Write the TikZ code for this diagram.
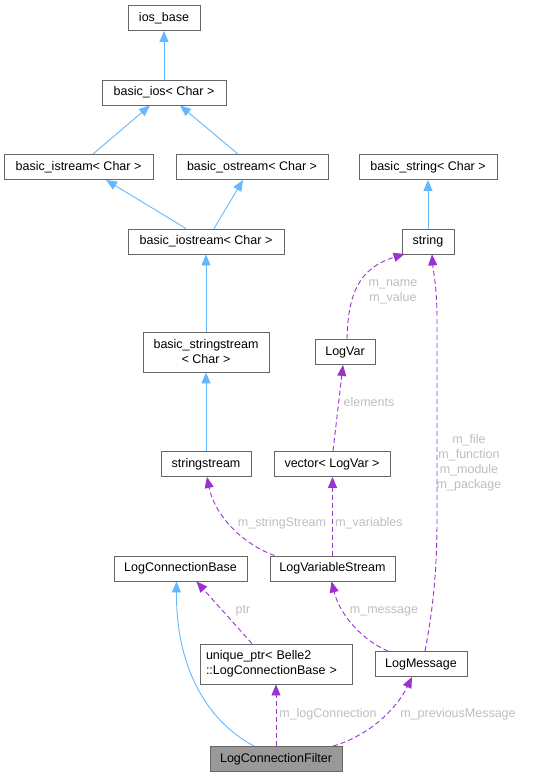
\documentclass[tikz,border=0pt]{standalone}
\usepackage{fontspec}
\setmainfont{Liberation Sans}
\usetikzlibrary{arrows.meta}
\definecolor{boxline}{HTML}{666666}
\definecolor{blueedge}{HTML}{63B8FF}
\definecolor{purpedge}{HTML}{9A32CD}
\definecolor{lblgray}{HTML}{BEBEBE}
\definecolor{filtfill}{HTML}{999999}
\tikzset{
  cls/.style={draw=boxline, line width=0.9pt, fill=white, inner sep=0pt, minimum height=25pt, font=\fontsize{12.5}{15}\selectfont, align=center},
  inh/.style={draw=blueedge, line width=0.9pt, -{Triangle[length=11pt,width=9pt]}},
  use/.style={draw=purpedge, line width=0.9pt, dash pattern=on 5pt off 3pt, -{Triangle[length=11pt,width=9pt]}},
  lbl/.style={text=lblgray, font=\fontsize{12.5}{15}\selectfont, align=center, inner sep=0pt}
}
\begin{document}
\begin{tikzpicture}[x=1pt,y=-1pt]
\useasboundingbox (0,0) rectangle (547,777);
% nodes
\node[cls, minimum width=72pt] (iosbase) at (164,18) {ios\_base};
\node[cls, minimum width=124pt] (basicios) at (164,92.5) {basic\_ios< Char >};
\node[cls, minimum width=149pt] (istream) at (78.5,167) {basic\_istream< Char >};
\node[cls, minimum width=152pt] (ostream) at (252,167) {basic\_ostream< Char >};
\node[cls, minimum width=138pt] (bstring) at (428,167) {basic\_string< Char >};
\node[cls, minimum width=156pt] (iostream) at (206,241.5) {basic\_iostream< Char >};
\node[cls, minimum width=52pt] (string) at (428,241.5) {string};
\node[cls, minimum width=126pt, minimum height=40pt] (sstreamb) at (206,352) {basic\_stringstream\\< Char >};
\node[cls, minimum width=60pt] (logvar) at (345,352) {LogVar};
\node[cls, minimum width=90pt] (sstream) at (206,464) {stringstream};
\node[cls, minimum width=116pt] (vector) at (332,464) {vector< LogVar >};
\node[cls, minimum width=133pt] (lcb) at (180.5,568.5) {LogConnectionBase};
\node[cls, minimum width=125pt] (lvs) at (332.5,568.5) {LogVariableStream};
\node[cls, minimum width=152pt, minimum height=40pt, align=left, text width=140pt] (uptr) at (276,664) {unique\_ptr< Belle2\\::LogConnectionBase >};
\node[cls, minimum width=92pt] (logmsg) at (421,664) {LogMessage};
\node[cls, minimum width=132pt, fill=filtfill] (filter) at (276,759) {LogConnectionFilter};
% inheritance edges
\draw[inh] (basicios.north) -- (iosbase.south);
\draw[inh] ([xshift=14.5pt]istream.north) -- ([xshift=-14pt]basicios.south);
\draw[inh] ([xshift=-14pt]ostream.north) -- ([xshift=16pt]basicios.south);
\draw[inh] ([xshift=-20pt]iostream.north) -- ([xshift=27.5pt]istream.south);
\draw[inh] ([xshift=8pt]iostream.north) -- ([xshift=-9pt]ostream.south);
\draw[inh] (string.north) -- (bstring.south);
\draw[inh] (sstreamb.north) -- (iostream.south);
\draw[inh] (sstream.north) -- (sstreamb.south);
\draw[inh] ([xshift=-22pt]filter.north) .. controls (205,720) and (176,665) .. ([xshift=-4pt]lcb.south);
% usage edges
\draw[use] ([xshift=2pt]logvar.north) .. controls (348,292) and (360,268) .. ([xshift=3pt,yshift=0.5pt]string.south west);
\draw[use] ([xshift=1pt]vector.north) -- ([xshift=-2pt]logvar.south);
\draw[use] ([xshift=-58pt]lvs.north) .. controls (238,542) and (214,512) .. ([xshift=1pt]sstream.south);
\draw[use] (lvs.north) -- ([xshift=0.5pt]vector.south);
\draw[use] ([xshift=4pt]logmsg.north) .. controls (433,610) and (437,570) .. (437,520) -- (437,320) .. controls (437,285) and (433,270) .. ([xshift=4pt]string.south);
\draw[use] ([xshift=-33pt]logmsg.north) .. controls (362,640) and (340,615) .. ([xshift=-1pt]lvs.south);
\draw[use] ([xshift=-24pt]uptr.north) -- ([xshift=16pt]lcb.south);
\draw[use] (filter.north) -- (uptr.south);
\draw[use] ([xshift=57pt]filter.north) .. controls (368,736) and (396,710) .. ([xshift=-9pt]logmsg.south);
% labels
\node[lbl] (l1) at (393,292) {m\_name\\m\_value};
\node[lbl] (l2) at (369,402) {elements};
\node[lbl] (l3) at (469,463) {m\_file\\m\_function\\m\_module\\m\_package};
\node[lbl] (l4) at (282,523) {m\_stringStream};
\node[lbl] (l5) at (369,523) {m\_variables};
\node[lbl] (l6) at (243,611) {ptr};
\node[lbl] (l7) at (384,611) {m\_message};
\node[lbl] (l8) at (328,714) {m\_logConnection};
\node[lbl] (l9) at (458,714) {m\_previousMessage};
\end{tikzpicture}
\end{document}
